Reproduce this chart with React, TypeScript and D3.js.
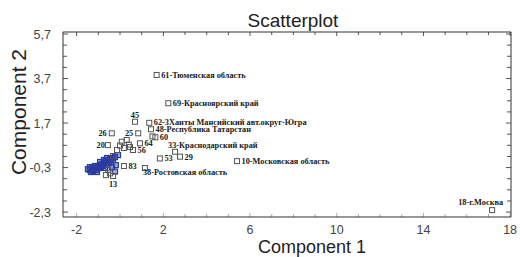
import React from 'react';
import * as d3 from 'd3';

// labelled regions
const names = [
  '61-Тюменская область',
  '69-Красноярский край',
  '62-3Ханты  Мансийский авт.округ-Югра',
  '48-Республика Татарстан',
  '60',
  '45',
  '25',
  '26',
  '20',
  '64',
  '56',
  '33-Краснодарский край',
  '53',
  '29',
  '10-Московская область',
  '38-Ростовская область',
  '83',
  '13',
  '18-г.Москва',
];
const namedX = [1.69, 2.23, 1.35, 1.43, 1.63, 0.69, 0.84, -0.38, -0.56, 0.92, 0.6, 2.54, 1.84, 2.77, 5.4, 1.15, 0.18, -0.32, 17.17];
const namedY = [3.86, 2.59, 1.71, 1.42, 1.06, 1.76, 1.24, 1.24, 0.71, 0.79, 0.49, 0.41, 0.11, 0.19, -0.01, -0.32, -0.23, -0.68, -2.21];

// unlabelled open squares
const openX = [1.5, 0.08, 0.31, 0.0, 0.41, 0.46, 0.18, -0.54, -0.46, -0.65, -0.14, -0.32];
const openY = [1.1, 0.86, 0.94, 0.69, 0.73, 0.62, 0.58, -0.41, -0.56, -0.64, 0.49, 0.22];

// dense blue cluster
const clusterX = [-1.48, -1.39, -1.29, -1.2, -1.11, -1.02, -0.92, -0.83, -0.74, -0.65, -0.56, -0.46, -0.37, -0.23, -0.09,
  -1.39, -1.25, -1.11, -0.97, -0.88, -0.79, -0.69, -0.6, -0.51, -0.42, -0.32, -0.92, -0.74, -0.6, -0.19, -0.23, -0.37, -1.16, -1.34, -1.06];
const clusterY = [-0.37, -0.41, -0.32, -0.37, -0.28, -0.23, -0.19, -0.14, -0.1, -0.01, 0.04, 0.08, 0.13, 0.17, 0.26,
  -0.28, -0.46, -0.41, -0.32, -0.28, -0.23, -0.32, -0.19, -0.1, -0.05, 0.04, -0.05, 0.04, 0.13, -0.19, -0.48, -0.28, -0.23, -0.5, -0.5];

const xMajor = [-2, 2, 6, 10, 14, 18];
const yMajor = [5.7, 3.7, 1.7, -0.3, -2.3];

// label offsets that differ from the default (right of the point)
const placement: Record<string, [number, number, string]> = {
  '62-3Ханты  Мансийский авт.округ-Югра': [4.5, 2, 'start'],
  '45': [0, -4, 'middle'],
  '25': [-5, 3, 'end'],
  '26': [-5, 3, 'end'],
  '20': [-3, 3, 'end'],
  '33-Краснодарский край': [-7, -4, 'start'],
  '38-Ростовская область': [-2, 7, 'start'],
  '13': [0, 11, 'middle'],
  '18-г.Москва': [-34, -5, 'start'],
};

const left = 63;
const right = 511;
const top = 32;
const bottom = 217;

const App = () => {
  const x = d3.scaleLinear().domain([-2.63, 18.04]).range([left, right]);
  const y = d3.scaleLinear().domain([-2.52, 5.79]).range([bottom, top]);

  const xMinor = d3.range(-2, 18.01, 1);
  const yMinor = d3.range(-2.3, 5.71, 0.5);
  const fmt = (v: number) => d3.format('.1f')(v).replace('.', ',').replace('−', '-');

  const sq = 5;

  return (
    <svg
      width={520}
      height={257}
      style={{ position: 'absolute', left: 0, top: 0, background: '#fff' }}
      fontFamily="Arial, 'Liberation Sans', sans-serif"
    >
      <text x={293} y={27} fontSize={19} textAnchor="middle" fill="#222">Scatterplot</text>

      <g className="ticks" stroke="#555" strokeWidth={1}>
        {xMinor.map((t, i) => {
          const major = xMajor.includes(Math.round(t));
          const len = major ? 4 : 3;
          return (
            <g key={i}>
              <line x1={x(t)} x2={x(t)} y1={top} y2={top + len} />
              <line x1={x(t)} x2={x(t)} y1={bottom} y2={bottom - len} stroke="#aaa" />
            </g>
          );
        })}
        {yMinor.map((t, i) => {
          const major = yMajor.some((m) => Math.abs(m - t) < 1e-6);
          const len = major ? 5 : 4;
          return (
            <g key={i}>
              <line x1={left} x2={left + len} y1={y(t)} y2={y(t)} />
              <line x1={right} x2={right - len} y1={y(t)} y2={y(t)} />
            </g>
          );
        })}
      </g>

      <g className="axis" stroke="#333" strokeWidth={1} fill="none">
        <line x1={left} x2={left} y1={top} y2={bottom} />
        <line x1={right} x2={right} y1={top} y2={bottom} />
        <line x1={left} x2={right} y1={top} y2={top} />
        <line x1={left} x2={right} y1={bottom} y2={bottom} />
      </g>

      <g className="tick-labels" fill="#444" fontSize={12.5}>
        {xMajor.map((t) => (
          <text key={t} x={x(t)} y={234} textAnchor="middle">{t}</text>
        ))}
        {yMajor.map((t) => (
          <text key={t} x={51} y={y(t) + 4.5} textAnchor="end">{fmt(t)}</text>
        ))}
      </g>

      <text x={312} y={253} fontSize={18} textAnchor="middle" fill="#222">Component 1</text>
      <text
        transform={`translate(26, 112) rotate(-90)`}
        fontSize={21}
        textAnchor="middle"
        fill="#222"
      >
        Component 2
      </text>

      <g className="cluster" stroke="#2a3a9e" strokeWidth={1.2} fill="#3444aa" fillOpacity={0.45}>
        {clusterX.map((v, i) => (
          <rect key={i} x={x(v) - sq / 2} y={y(clusterY[i]) - sq / 2} width={sq} height={sq} />
        ))}
      </g>

      <g className="open" stroke="#555" strokeWidth={1} fill="none">
        {openX.map((v, i) => (
          <rect key={i} x={x(v) - sq / 2} y={y(openY[i]) - sq / 2} width={sq} height={sq} />
        ))}
        {namedX.map((v, i) => (
          <rect key={i} x={x(v) - sq / 2} y={y(namedY[i]) - sq / 2} width={sq} height={sq} />
        ))}
      </g>

      <g className="labels" fontFamily="'Liberation Serif', 'Times New Roman', serif" fontWeight="bold" fontSize={8.3} fill="#1a1a1a">
        {names.map((n, i) => {
          const [dx, dy, anchor] = placement[n] || [4.5, 3, 'start'];
          return (
            <text key={n} x={x(namedX[i]) + dx} y={y(namedY[i]) + dy} textAnchor={anchor}>{n}</text>
          );
        })}
      </g>
    </svg>
  );
};

export default App;
